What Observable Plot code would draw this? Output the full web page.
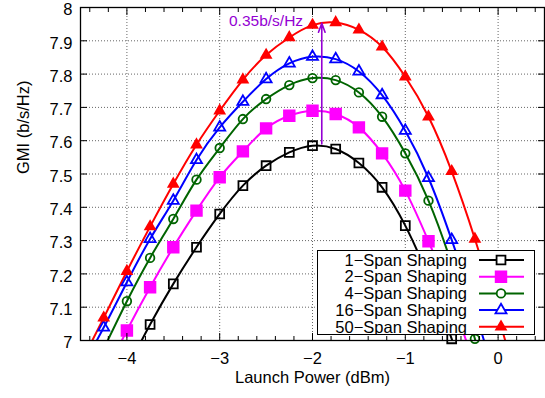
<!DOCTYPE html>
<html><head><meta charset="utf-8">
<script src="https://cdn.jsdelivr.net/npm/d3@7"></script>
<script src="https://cdn.jsdelivr.net/npm/@observablehq/plot@0.6"></script>
<style>
body{margin:0;background:#fff;}
#wrap{position:relative;width:545px;height:398px;font-family:"Liberation Sans",Arial,sans-serif;}
#legend{position:absolute;left:317px;top:250px;}
</style></head><body><div id="wrap"></div>
<script>
// Launch power grid (dBm)
const launchPower = [-4.5, -4.25, -4.0, -3.75, -3.5, -3.25, -3.0, -2.75, -2.5, -2.25, -2.0, -1.75, -1.5, -1.25, -1.0, -0.75, -0.5, -0.25, 0.0, 0.25];
// GMI values (b/s/Hz); null = no point
const gmi1Span  = [null, null, 6.915, 7.048, 7.17, 7.28, 7.38, 7.465, 7.525, 7.565, 7.585, 7.575, 7.533, 7.46, 7.345, 7.19, 7.005, 6.80, null, null];
const gmi2Span  = [null, 6.89, 7.03, 7.16, 7.28, 7.39, 7.49, 7.568, 7.637, 7.675, 7.69, 7.68, 7.64, 7.562, 7.45, 7.298, 7.125, 6.92, null, null];
const gmi4Span  = [null, 6.975, 7.118, 7.248, 7.365, 7.483, 7.578, 7.665, 7.725, 7.767, 7.788, 7.782, 7.745, 7.672, 7.562, 7.42, 7.23, 7.005, 6.75, null];
const gmi16Span = [6.91, 7.039, 7.175, 7.305, 7.42, 7.542, 7.64, 7.717, 7.785, 7.832, 7.852, 7.845, 7.808, 7.737, 7.63, 7.488, 7.302, 7.09, 6.86, null];
const gmi50Span = [6.93, 7.068, 7.208, 7.342, 7.47, 7.588, 7.69, 7.783, 7.857, 7.91, 7.947, 7.955, 7.933, 7.882, 7.792, 7.672, 7.508, 7.305, 7.075, 6.83];

const seriesNames   = ["1\u2212Span Shaping", "2\u2212Span Shaping", "4\u2212Span Shaping", "16\u2212Span Shaping", "50\u2212Span Shaping"];
const seriesValues  = [gmi1Span, gmi2Span, gmi4Span, gmi16Span, gmi50Span];
const seriesColors  = ["#000000", "#ff00ff", "#006400", "#0000ff", "#ff0000"];
const seriesSymbols = ["square", "square", "circle", "triangle", "triangle"];
const seriesFills   = ["none", "#ff00ff", "none", "none", "#ff0000"];
const seriesR       = [5.0, 6.0, 4.3, 4.1, 3.6];

const xMajorTicks = [-4, -3, -2, -1, 0];
const xMinorTicks = [-4.4, -4.2, -3.8, -3.6, -3.4, -3.2, -2.8, -2.6, -2.4, -2.2, -1.8, -1.6, -1.4, -1.2, -0.8, -0.6, -0.4, -0.2, 0.2, 0.4];
const yTicks = [7, 7.1, 7.2, 7.3, 7.4, 7.5, 7.6, 7.7, 7.8, 7.9, 8];
const yGrid = [7.1, 7.2, 7.3, 7.4, 7.5, 7.6, 7.7, 7.8, 7.9];

const xLabel = "Launch Power (dBm)";
const yLabel = "GMI (b/s/Hz)";
const gainArrow = [{x: -1.9, y1: 7.59, y2: 7.953}];
const gainLabel = [{x: -2.9, y: 7.945, text: "0.35b/s/Hz"}];

const rows = [];
seriesValues.forEach((vals, i) => vals.forEach((v, j) => {
  if (v != null) rows.push({x: launchPower[j], y: v, s: i});
}));

const FONT = "Liberation Sans, Arial, sans-serif";
const gridStyle = {stroke: "#666", strokeOpacity: 1, strokeDasharray: "1,2", strokeWidth: 1};

const marks = [
  Plot.gridX(xMajorTicks, gridStyle),
  Plot.gridY(yGrid, gridStyle),
];
seriesNames.forEach((name, i) => {
  marks.push(Plot.line(rows.filter(r => r.s === i), {x: "x", y: "y", stroke: seriesColors[i], strokeWidth: 2, curve: "natural", clip: true}));
});
seriesNames.forEach((name, i) => {
  marks.push(Plot.dot(rows.filter(r => r.s === i && r.y >= 7.0), {x: "x", y: "y", symbol: seriesSymbols[i], r: seriesR[i], stroke: seriesColors[i], fill: seriesFills[i], strokeWidth: 1.8}));
});
marks.push(
  Plot.arrow(gainArrow, {x1: "x", x2: "x", y1: "y1", y2: "y2", stroke: "#9400d3", strokeWidth: 1.6, headLength: 9, headAngle: 40}),
  Plot.text(gainLabel, {x: "x", y: "y", text: "text", fill: "#9400d3", textAnchor: "start", lineAnchor: "bottom", fontSize: 15.5}),
  Plot.frame({stroke: "black", strokeWidth: 1.3}),
  Plot.axisX(xMajorTicks, {anchor: "bottom", tickSize: 0, tickPadding: 12, tickFormat: d3.format(""), label: null, fontSize: 16.5}),
  Plot.axisX(xMajorTicks, {anchor: "bottom", tickSize: -7, tickFormat: () => "", label: null}),
  Plot.axisX(xMinorTicks, {anchor: "bottom", tickSize: -4, tickFormat: () => "", label: null}),
  Plot.axisX(xMajorTicks, {anchor: "top", tickSize: -7, tickFormat: () => "", label: null}),
  Plot.axisX(xMinorTicks, {anchor: "top", tickSize: -4, tickFormat: () => "", label: null}),
  Plot.axisY(yTicks, {anchor: "left", tickSize: 0, tickPadding: 8, dy: 2.5, tickFormat: d3.format(""), label: null, fontSize: 16.5}),
  Plot.axisY(yTicks, {anchor: "left", tickSize: -7, tickFormat: () => "", label: null}),
  Plot.axisY(yTicks, {anchor: "right", tickSize: -7, tickFormat: () => "", label: null}),
  Plot.text([xLabel], {frameAnchor: "bottom", dy: 42, text: d => d, fill: "black", fontSize: 16.5}),
  Plot.text([yLabel], {frameAnchor: "left", dx: -57, rotate: -90, text: d => d, fill: "black", fontSize: 16.5})
);

const chart = Plot.plot({
  width: 545, height: 398,
  marginLeft: 80, marginRight: 1, marginTop: 7, marginBottom: 58,
  x: {domain: [-4.5, 0.5]},
  y: {domain: [7, 8]},
  style: {fontFamily: FONT, fontSize: "16.5px", color: "black", background: "white", overflow: "visible"},
  marks
});
const wrap = document.getElementById("wrap");
wrap.appendChild(chart);

// Legend overlay
const LW = 218, LH = 85, rowH = 16.7;
const leg = d3.select(wrap).append("svg").attr("id", "legend").attr("width", LW).attr("height", LH)
  .style("font-family", FONT).style("font-size", "16.5px");
leg.append("rect").attr("x", 0.5).attr("y", 0.5).attr("width", LW - 1).attr("height", LH - 1)
  .attr("fill", "white").attr("stroke", "black").attr("stroke-width", 1);
const symMap = {square: d3.symbolSquare, circle: d3.symbolCircle, triangle: d3.symbolTriangle};
seriesNames.forEach((name, i) => {
  const cy = 10 + i * rowH;
  leg.append("text").attr("x", 150).attr("y", cy).attr("dy", "0.35em").attr("text-anchor", "end").attr("fill", "black").text(name);
  leg.append("line").attr("x1", 162).attr("x2", 207).attr("y1", cy).attr("y2", cy).attr("stroke", seriesColors[i]).attr("stroke-width", 2);
  leg.append("path").attr("transform", `translate(184,${cy})`)
    .attr("d", d3.symbol(symMap[seriesSymbols[i]], Math.PI * seriesR[i] * seriesR[i])())
    .attr("fill", seriesFills[i] === "none" ? "white" : seriesFills[i]).attr("stroke", seriesColors[i]).attr("stroke-width", 1.8);
});
</script></body></html>
